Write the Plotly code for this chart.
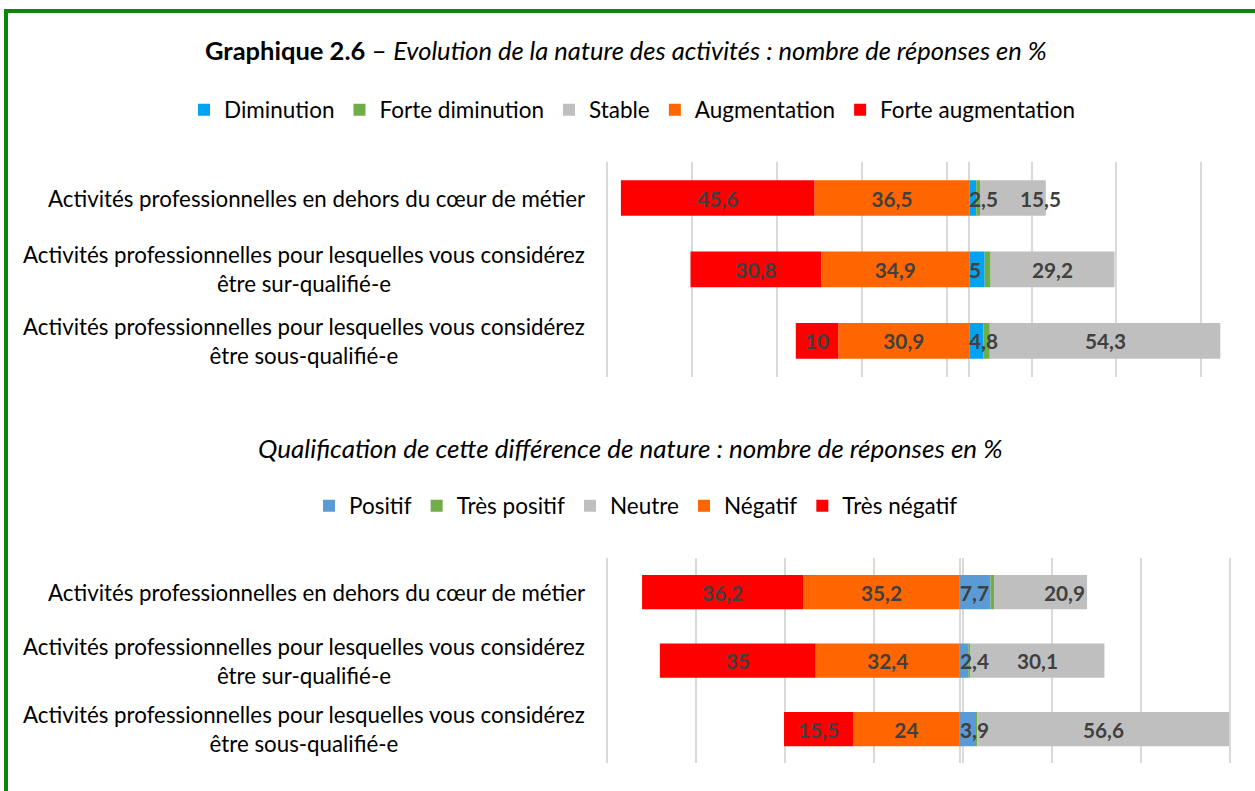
import plotly.graph_objects as go

# ---------------- data ----------------
categories = [
    "Activités professionnelles en dehors du cœur de métier",
    "Activités professionnelles pour lesquelles vous considérez être sur-qualifié-e",
    "Activités professionnelles pour lesquelles vous considérez être sous-qualifié-e",
]

# Panel 1 : Evolution de la nature des activités (%)
diminution = [1.6, 3.6, 3.3]
forte_diminution = [0.9, 1.4, 1.5]
stable = [15.5, 29.2, 54.3]
augmentation = [36.5, 34.9, 30.9]
forte_augmentation = [45.6, 30.8, 10.0]

# Panel 2 : Qualification de cette différence de nature (%)
positif = [6.9, 1.9, 3.5]
tres_positif = [0.8, 0.5, 0.4]
neutre = [20.9, 30.1, 56.6]
negatif = [35.2, 32.4, 24.0]
tres_negatif = [36.2, 35.0, 15.5]

title_bold = "Graphique 2.6"
title_rest = "Evolution de la nature des activités : nombre de réponses en %"
subtitle = "Qualification de cette différence de nature : nombre de réponses en %"

# ---------------- style ----------------
W, H = 1255, 791
FONT = "Lato"
LABEL_COLOR = "#404040"
GRID = "#D9D9D9"
C_BLUE1 = "#00A2F2"
C_BLUE2 = "#5B9BD5"
C_GREEN = "#70AD47"
C_GRAY = "#BFBFBF"
C_ORANGE = "#FF6600"
C_RED = "#FF0000"
STABLE_SHIFT_TOP = [28, 0, 0]
STABLE_SHIFT_BOT = [24, 0, 0]


def fmt(v):
    s = f"{v:.1f}"
    if s.endswith(".0"):
        s = s[:-2]
    return s.replace(".", ",")


def wrap(c):
    return c.replace("considérez ", "considérez<br>")


fig = go.Figure()
lab_font = dict(family=FONT, size=20.8, color=LABEL_COLOR, weight="bold")


def add_panel(xa, ya, leg, pos_small, pos_tiny, mid, neg1, neg2, names, colors, shifts):
    xr, yr = xa.replace("axis", ""), ya.replace("axis", "")
    n_small, n_tiny, n_mid, n_neg1, n_neg2 = names
    c_small, c_tiny, c_mid, c_neg1, c_neg2 = colors
    fig.add_trace(go.Bar(y=categories, x=pos_small, name=n_small, orientation="h",
                         marker=dict(color=c_small, line=dict(width=0)),
                         xaxis=xr, yaxis=yr, legend=leg))
    fig.add_trace(go.Bar(y=categories, x=pos_tiny, name=n_tiny, orientation="h",
                         marker=dict(color=c_tiny, line=dict(width=0)),
                         xaxis=xr, yaxis=yr, legend=leg))
    fig.add_trace(go.Bar(y=categories, x=mid, name=n_mid, orientation="h",
                         marker=dict(color=c_mid, line=dict(width=0)),
                         xaxis=xr, yaxis=yr, legend=leg))
    fig.add_trace(go.Bar(y=categories, x=[-v for v in neg1], name=n_neg1, orientation="h",
                         marker=dict(color=c_neg1, line=dict(width=0)),
                         text=[fmt(v) for v in neg1], textposition="inside",
                         insidetextanchor="middle", textfont=lab_font,
                         xaxis=xr, yaxis=yr, legend=leg))
    fig.add_trace(go.Bar(y=categories, x=[-v for v in neg2], name=n_neg2, orientation="h",
                         marker=dict(color=c_neg2, line=dict(width=0)),
                         text=[fmt(v) for v in neg2], textposition="inside",
                         insidetextanchor="middle", textfont=lab_font,
                         xaxis=xr, yaxis=yr, legend=leg))
    # combined label of the two small positive segments, anchored at the base
    for c, a, b in zip(categories, pos_small, pos_tiny):
        fig.add_annotation(x=0, y=c, xref=xr, yref=yr, text=fmt(a + b),
                           showarrow=False, font=lab_font, xanchor="left",
                           yanchor="middle", xshift=-2)
    # labels of the neutral segment
    for c, a, b, m, sh in zip(categories, pos_small, pos_tiny, mid, shifts):
        fig.add_annotation(x=a + b + m / 2, y=c, xref=xr, yref=yr, text=fmt(m),
                           showarrow=False, font=lab_font, xshift=sh, yanchor="middle")
    # category labels
    for c in categories:
        fig.add_annotation(x=587 / W, y=c, xref="paper", yref=yr, text=wrap(c),
                           showarrow=False, xanchor="right", yanchor="middle", align="center",
                           font=dict(family=FONT, size=22.3, color="#000000"))


add_panel("xaxis", "yaxis", "legend", diminution, forte_diminution, stable,
          augmentation, forte_augmentation,
          ["Diminution", "Forte diminution", "Stable", "Augmentation", "Forte augmentation"],
          [C_BLUE1, C_GREEN, C_GRAY, C_ORANGE, C_RED], STABLE_SHIFT_TOP)
add_panel("xaxis2", "yaxis2", "legend2", positif, tres_positif, neutre,
          negatif, tres_negatif,
          ["Positif", "Très positif", "Neutre", "Négatif", "Très négatif"],
          [C_BLUE2, C_GREEN, C_GRAY, C_ORANGE, C_RED], STABLE_SHIFT_BOT)

x_left = 604 / W
xa_common = dict(showticklabels=False, ticks="", showgrid=True, gridcolor=GRID, gridwidth=1.5,
                 zeroline=True, zerolinecolor=GRID, zerolinewidth=1.5, showline=False,
                 dtick=20, fixedrange=True)
ya_common = dict(showticklabels=False, ticks="", showgrid=False, zeroline=False,
                 autorange="reversed", categoryorder="array", categoryarray=categories)

leg_font = dict(family=FONT, size=22.5, color="#000000")
fig.update_layout(
    width=W, height=H, margin=dict(l=0, r=0, t=0, b=0),
    paper_bgcolor="white", plot_bgcolor="white",
    barmode="relative", bargap=0.5,
    font=dict(family=FONT, color="#000000"),
    xaxis=dict(domain=[x_left, 1], range=[-(969.4 - 604) / 4.245, (1255 - 969.4) / 4.245],
               tick0=-85.37, **xa_common),
    yaxis=dict(domain=[1 - 376.5 / H, 1 - 162.3 / H], anchor="x", **ya_common),
    xaxis2=dict(domain=[x_left, 1], range=[-(959.8 - 604) / 4.45, (1255 - 959.8) / 4.45],
                tick0=-79.28, anchor="y2", **xa_common),
    yaxis2=dict(domain=[1 - 763.25 / H, 1 - 557.75 / H], anchor="x2", **ya_common),
    legend=dict(orientation="h", x=632 / W, xanchor="center", y=1 - 110 / H, yanchor="middle",
                font=leg_font, traceorder="normal", bgcolor="rgba(0,0,0,0)"),
    legend2=dict(orientation="h", x=636 / W, xanchor="center", y=1 - 506 / H, yanchor="middle",
                 font=leg_font, traceorder="normal", bgcolor="rgba(0,0,0,0)"),
    showlegend=True,
)

fig.add_annotation(x=626 / W, y=1 - 50 / H, xref="paper", yref="paper", showarrow=False,
                   xanchor="center", yanchor="middle",
                   text=f"<b>{title_bold}</b> – <i>{title_rest}</i>",
                   font=dict(family=FONT, size=25.5, color="#000000"))
fig.add_annotation(x=630 / W, y=1 - 448 / H, xref="paper", yref="paper", showarrow=False,
                   xanchor="center", yanchor="middle",
                   text=f"<i>{subtitle}</i>",
                   font=dict(family=FONT, size=26, color="#000000"))

fig.add_shape(type="rect", xref="paper", yref="paper",
              x0=6 / W, x1=1.02, y0=-0.02, y1=1 - 11 / H,
              line=dict(color="#0A870A", width=4), fillcolor="rgba(0,0,0,0)", layer="above")

fig.write_html("out.html", config={"displayModeBar": False},
               post_script="document.body.style.margin='0';")
